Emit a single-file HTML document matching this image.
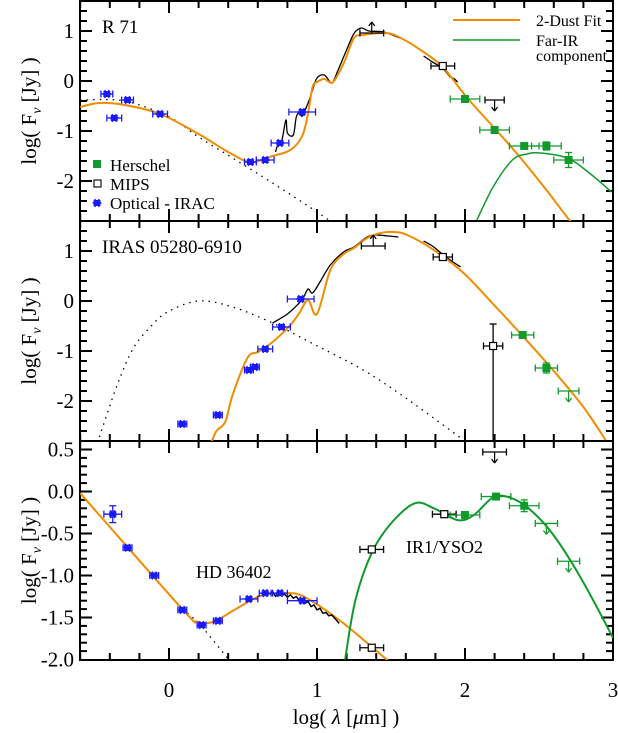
<!DOCTYPE html>
<html><head><meta charset="utf-8">
<style>
html,body{margin:0;padding:0;background:#fff;}
svg{display:block;}
svg text{font-family:"Liberation Serif",serif;}
</style></head>
<body>
<svg id="chart" width="618" height="733" viewBox="0 0 618 733" xmlns="http://www.w3.org/2000/svg">
<defs>
<clipPath id="c1"><rect x="80" y="1" width="533" height="220"/></clipPath>
<clipPath id="c2"><rect x="80" y="221" width="533" height="220"/></clipPath>
<clipPath id="c3"><rect x="80" y="441" width="533" height="219"/></clipPath>
</defs>
<g id="layer"></g>
<text x="346" y="724" font-size="21" text-anchor="middle">log( <tspan font-style="italic">λ</tspan> [<tspan font-style="italic">μ</tspan>m] )</text>
</svg>
<script>
// ---------- data: R 71 (top panel) ----------
const r71OptX=[-0.42,-0.37,-0.28,-0.06,0.55,0.65,0.75,0.90];
const r71OptY=[-0.26,-0.74,-0.38,-0.66,-1.62,-1.58,-1.24,-0.62];
const r71OptXe=[0.04,0.05,0.04,0.05,0.04,0.06,0.06,0.09];
const r71MipsX=[1.85];
const r71MipsY=[0.30];
const r71MipsLimX=[1.37];
const r71MipsLimY=[0.96];
const r71UpperX=[2.2];
const r71UpperY=[-0.38];
const r71HerX=[2.0,2.2,2.4,2.55,2.7];
const r71HerY=[-0.36,-0.98,-1.30,-1.30,-1.58];
const r71HerYe=[0,0,0,0.08,0.15];
const r71FitX=[-0.6,-0.47,-0.3,-0.06,0.2,0.4,0.55,0.7,0.82,0.9,0.94,0.97,1.0,1.05,1.10,1.14,1.19,1.25,1.31,1.45,1.54,1.70,1.85,2.01,2.21,2.37,2.55,2.70,2.8];
const r71FitY=[-0.52,-0.44,-0.48,-0.66,-1.06,-1.42,-1.62,-1.50,-1.38,-1.10,-0.64,-0.12,-0.02,0.04,-0.04,0.12,0.42,0.86,0.92,0.96,0.90,0.62,0.28,-0.32,-0.98,-1.52,-2.18,-2.76,-3.1];
const r71FarX=[2.08,2.19,2.32,2.42,2.51,2.69,2.84,2.99];
const r71FarY=[-2.78,-2.12,-1.58,-1.46,-1.44,-1.54,-1.84,-2.22];
const r71StarX=[-0.6,-0.3,0.0,0.2,0.43,0.7,0.95,1.1];
const r71StarY=[-0.38,-0.40,-0.72,-1.12,-1.54,-2.04,-2.52,-2.82];
const r71SpecX=[0.72,0.73,0.76,0.79,0.80,0.84,0.86,0.885,0.90,0.94,0.97,1.0,1.05,1.10,1.14,1.19,1.25,1.30,1.35,1.45,1.56];
const r71SpecY=[-1.42,-1.32,-1.22,-0.78,-1.04,-1.08,-0.72,-0.62,-0.70,-0.44,-0.18,0.06,0.12,-0.04,0.20,0.55,0.95,1.06,1.00,0.98,0.86];
const r71Spec2X=[1.72,1.78,1.85,1.90,1.93,1.95];
const r71Spec2Y=[0.50,0.38,0.26,0.08,0.04,-0.02];
// ---------- data: IRAS 05280-6910 (middle panel) ----------
const irOptX=[0.09,0.33,0.54,0.58,0.65,0.76,0.89];
const irOptY=[-2.46,-2.28,-1.38,-1.32,-0.96,-0.52,0.04];
const irOptXe=[0.03,0.03,0.03,0.03,0.05,0.06,0.09];
const irMipsX=[1.85,2.19];
const irMipsY=[0.88,-0.90];
const irMipsYeUp=[0,0.44];
const irMipsLimX=[1.38];
const irMipsLimY=[1.10];
const irHerX=[2.39,2.55];
const irHerY=[-0.68,-1.34];
const irHerYe=[0,0.1];
const irUpperX=[2.70];
const irUpperY=[-1.80];
const irFitX=[0.28,0.32,0.38,0.43,0.53,0.60,0.70,0.82,0.885,0.94,1.0,1.09,1.18,1.25,1.34,1.43,1.52,1.61,1.79,1.99,2.19,2.39,2.60,2.80,2.95];
const irFitY=[-2.88,-2.60,-2.42,-1.88,-1.14,-1.02,-0.82,-0.48,-0.22,0.02,-0.26,0.62,0.94,1.06,1.26,1.36,1.38,1.32,1.02,0.56,-0.06,-0.70,-1.40,-2.12,-2.78];
const irStarX=[-0.47,-0.35,-0.24,-0.12,-0.01,0.2,0.43,0.7,0.95,1.3,1.6,1.99];
const irStarY=[-2.72,-1.68,-0.94,-0.50,-0.22,0.0,-0.12,-0.44,-0.82,-1.36,-1.94,-2.78];
const irSpecX=[0.70,0.80,0.88,0.91,0.94,0.97,1.02,1.09,1.18,1.25,1.34,1.40,1.48,1.55];
const irSpecY=[-0.44,-0.26,-0.04,0.08,0.24,0.16,0.38,0.72,0.98,1.08,1.28,1.32,1.30,1.28];
const irSpec2X=[1.72,1.78,1.83,1.90,1.97];
const irSpec2Y=[1.20,1.10,0.98,0.82,0.68];
// ---------- data: HD 36402 / IR1-YSO2 (bottom panel) ----------
const hdOptX=[-0.38,-0.28,-0.10,0.09,0.22,0.33,0.54,0.65,0.75,0.90];
const hdOptY=[-0.27,-0.67,-1.00,-1.41,-1.59,-1.54,-1.28,-1.21,-1.21,-1.30];
const hdOptXe=[0.06,0.03,0.03,0.03,0.03,0.03,0.06,0.04,0.05,0.1];
const hdOptYe=[0.1,0.03,0,0,0,0,0,0,0,0];
const hdMipsX=[1.37,1.37,1.86];
const hdMipsY=[-0.69,-1.86,-0.27];
const hdHerX=[2.0,2.21,2.40];
const hdHerY=[-0.28,-0.06,-0.17];
const hdHerYe=[0,0,0.07];
const hdUpperX=[2.2];
const hdUpperY=[0.47];
const hdHerLimX=[2.55,2.70];
const hdHerLimY=[-0.38,-0.83];
const hdFitX=[-0.6,0.09,0.19,0.30,0.46,0.62,0.78,0.91,1.15,1.37,1.47,1.55];
const hdFitY=[-0.02,-1.40,-1.55,-1.55,-1.39,-1.24,-1.21,-1.25,-1.53,-1.85,-2.0,-2.12];
const hdStarX=[0.09,0.2,0.39,0.45];
const hdStarY=[-1.40,-1.56,-1.97,-2.1];
const hdSpecX=[0.68,0.70,0.72,0.74,0.76,0.78,0.80,0.82,0.84,0.86,0.88,0.90,0.92,0.94,0.96,0.98,1.00,1.02,1.04,1.06,1.08,1.10,1.12,1.14,1.15];
const hdSpecY=[-1.22,-1.19,-1.25,-1.20,-1.24,-1.22,-1.26,-1.23,-1.27,-1.25,-1.30,-1.28,-1.33,-1.31,-1.37,-1.35,-1.41,-1.39,-1.45,-1.44,-1.48,-1.47,-1.51,-1.55,-1.57];
const ysoX=[1.19,1.26,1.37,1.50,1.66,1.79,1.95,2.06,2.19,2.30,2.43,2.59,2.78,3.0];
const ysoY=[-2.0,-1.29,-0.73,-0.38,-0.14,-0.20,-0.34,-0.28,-0.07,-0.07,-0.20,-0.50,-1.02,-1.74];

const NS="http://www.w3.org/2000/svg";
const layer=document.getElementById('layer');
const ORANGE="#f08c00",GREEN="#119a2c",BLUE="#1a1aff";
const X0=169,XS=148;
function xs(v){return X0+XS*v;}
const panels=[
 {top:1,bot:221,y0:81,ys:50,fmin:-2.8,fmax:1.6,clip:'c1'},
 {top:221,bot:441,y0:301,ys:50,fmin:-2.8,fmax:1.6,clip:'c2'},
 {top:441,bot:660,y0:491.5,ys:84,fmin:-2.0,fmax:0.6,clip:'c3'}
];
function mk(tag,attrs,parent){const e=document.createElementNS(NS,tag);for(const k in attrs)e.setAttribute(k,attrs[k]);(parent||layer).appendChild(e);return e;}
function ln(g,x1,y1,x2,y2,c,w){return mk('line',{x1:x1,y1:y1,x2:x2,y2:y2,stroke:c,'stroke-width':w||1.2},g);}
function curve(g,p,X,Y,color,w,dash,name,smooth){
  const P=X.map((v,i)=>[xs(v),p.y0-p.ys*Y[i]]);
  let d='M'+P[0][0].toFixed(1)+','+P[0][1].toFixed(1);
  for(let i=1;i<P.length;i++){
    if(smooth){const a=P[i-2]||P[i-1],b=P[i-1],c=P[i],e=P[i+1]||P[i];
      const c1=[b[0]+(c[0]-a[0])/6,b[1]+(c[1]-a[1])/6],c2=[c[0]-(e[0]-b[0])/6,c[1]-(e[1]-b[1])/6];
      d+='C'+c1[0].toFixed(1)+','+c1[1].toFixed(1)+' '+c2[0].toFixed(1)+','+c2[1].toFixed(1)+' '+c[0].toFixed(1)+','+c[1].toFixed(1);}
    else d+='L'+P[i][0].toFixed(1)+','+P[i][1].toFixed(1);}
  const e=mk('path',{d:d,fill:'none',stroke:color,'stroke-width':w,'stroke-linejoin':'round'},g);
  if(dash)e.setAttribute('stroke-dasharray',dash);
  
  
}
function xerr(g,p,v,f,e,c){const y=p.y0-p.ys*f;ln(g,xs(v-e),y,xs(v+e),y,c,1.3);ln(g,xs(v-e),y-3.5,xs(v-e),y+3.5,c,1.3);ln(g,xs(v+e),y-3.5,xs(v+e),y+3.5,c,1.3);}
function yerr(g,p,v,f1,f2,c){const x=xs(v);ln(g,x,p.y0-p.ys*f1,x,p.y0-p.ys*f2,c,1.3);ln(g,x-3.5,p.y0-p.ys*f1,x+3.5,p.y0-p.ys*f1,c,1.3);ln(g,x-3.5,p.y0-p.ys*f2,x+3.5,p.y0-p.ys*f2,c,1.3);}
function star(g,x,y,c){const s=mk('g',{},g);
  mk('rect',{x:x-3.5,y:y-3,width:7,height:6,fill:c},s);
  for(const a of [0,60,120]){const r=a*Math.PI/180;ln(s,x-4.5*Math.cos(r),y-4.5*Math.sin(r),x+4.5*Math.cos(r),y+4.5*Math.sin(r),c,1.5);}}
function opt(g,p,X,Y,XE,YE){X.forEach((v,i)=>{xerr(g,p,v,Y[i],XE[i],BLUE);if(YE&&YE[i])yerr(g,p,v,Y[i]-YE[i],Y[i]+YE[i],BLUE);star(g,xs(v),p.y0-p.ys*Y[i],BLUE);});}
function her(g,p,X,Y,YE,xe){X.forEach((v,i)=>{xerr(g,p,v,Y[i],xe,GREEN);if(YE&&YE[i])yerr(g,p,v,Y[i]-YE[i],Y[i]+YE[i],GREEN);
  const r=mk('rect',{x:xs(v)-4,y:p.y0-p.ys*Y[i]-4,width:8,height:8,fill:GREEN},g);});}
function mips(g,p,X,Y,xe,sz){X.forEach((v,i)=>{xerr(g,p,v,Y[i],xe,'#000');
  const s=sz||7;const r=mk('rect',{x:xs(v)-s/2,y:p.y0-p.ys*Y[i]-s/2,width:s,height:s,fill:'#fff',stroke:'#000','stroke-width':1.2},g);});}
function upper(g,p,X,Y,xe,c,dir){X.forEach((v,i)=>{xerr(g,p,v,Y[i],xe,c);const x=xs(v),y=p.y0-p.ys*Y[i];const L=dir*11;
  ln(g,x,y,x,y+L,c,1.2);ln(g,x-3,y+L-dir*4,x,y+L,c,1.2);ln(g,x+3,y+L-dir*4,x,y+L,c,1.2);});}

// ---------- axes ----------
panels.forEach((p,pi)=>{
  const ax=mk('g',{});
  
  
  mk('rect',{x:80,y:p.top,width:533,height:p.bot-p.top,fill:'none',stroke:'#000','stroke-width':2},ax);
  for(let k=-3;k<=15;k++){const v=k*0.2;const x=xs(v);const maj=(k%5===0);const L=maj?12:7;
    ln(ax,x,p.bot,x,p.bot-L,'#000',2);ln(ax,x,p.top,x,p.top+L,'#000',2);}
  const per=pi==2?10:5;   // minor ticks per unit
  const kmin=Math.round(p.fmin*per)-1,kmax=Math.round(p.fmax*per)+1;
  for(let k=kmin;k<=kmax;k++){const f=k/per;const y=p.y0-p.ys*f;if(y<p.top+1||y>p.bot+0.6)continue;
    const fm=pi==2?(k%5===0):(k%5===0);const L=fm?12:7;
    if(y<p.bot-1){ln(ax,80,y,80+L,y,'#000',2);ln(ax,613,y,613-L,y,'#000',2);}
    if(fm){const t=mk('text',{x:74,y:y+7,'font-size':21,'text-anchor':'end'},ax);
      t.textContent=pi==2?(k<0?'-':'')+Math.abs(f).toFixed(1):(k<0?'-':'')+Math.abs(Math.round(f));
      }}
  const yt=mk('text',{x:0,y:0,'font-size':21,'text-anchor':'middle',transform:'translate(36,'+((p.top+p.bot)/2)+') rotate(-90)'},ax);
  yt.innerHTML='log( F<tspan font-size="14" dy="5" font-style="italic">ν</tspan><tspan dy="-5"> [Jy] )</tspan>';
  
});
[0,1,2,3].forEach(v=>{const t=mk('text',{x:xs(v),y:697,'font-size':21,'text-anchor':'middle'});t.textContent=String(v);
  });

// ---------- panel 1 ----------
let p=panels[0];let g=mk('g',{'clip-path':'url(#c1)'});

curve(g,p,r71StarX,r71StarY,'#000',1.3,'1.5,5','stellar-component',true);
curve(g,p,r71SpecX,r71SpecY,'#000',1.3,null,'spitzer-spectrum',true);
curve(g,p,r71Spec2X,r71Spec2Y,'#000',1.3,null,'mips-sed-spectrum',false);
curve(g,p,r71FitX,r71FitY,ORANGE,2,null,'two-dust-fit',true);
curve(g,p,r71FarX,r71FarY,GREEN,1.5,null,'far-ir-component',true);
opt(g,p,r71OptX,r71OptY,r71OptXe);
mips(g,p,r71MipsX,r71MipsY,0.08);
upper(g,p,r71MipsLimX,r71MipsLimY,0.08,'#000',-1);
upper(g,p,r71UpperX,r71UpperY,0.065,'#000',1);
her(g,p,r71HerX,r71HerY,r71HerYe,0.1);
let t=mk('text',{x:102,y:33,'font-size':19});t.textContent='R 71';
const lg=mk('g',{});
mk('rect',{x:93,y:160,width:8,height:8,fill:GREEN},lg);
mk('rect',{x:94,y:180,width:7,height:7,fill:'#fff',stroke:'#000','stroke-width':1.1},lg);
star(lg,97,203,BLUE);
[['Herschel',171],['MIPS',190],['Optical - IRAC',209]].forEach(a=>{const e=mk('text',{x:110,y:a[1],'font-size':17},lg);e.textContent=a[0];});
const lg2=mk('g',{});
ln(lg2,453,20,520,20,ORANGE,2);ln(lg2,453,40,520,40,GREEN,1.5);
[['2-Dust Fit',26],['Far-IR',46],['component',61]].forEach(a=>{const e=mk('text',{x:536,y:a[1],'font-size':16},lg2);e.textContent=a[0];});

// ---------- panel 2 ----------
p=panels[1];g=mk('g',{'clip-path':'url(#c2)'});

curve(g,p,irStarX,irStarY,'#000',1.3,'1.5,5','stellar-component',true);
curve(g,p,irSpecX,irSpecY,'#000',1.3,null,'spitzer-spectrum',true);
curve(g,p,irSpec2X,irSpec2Y,'#000',1.3,null,'mips-sed-spectrum',true);
curve(g,p,irFitX,irFitY,ORANGE,2,null,'two-dust-fit',true);
opt(g,p,irOptX,irOptY,irOptXe);
irMipsX.forEach((v,i)=>{if(irMipsYeUp[i]){yerr(g,p,v,irMipsY[i]+irMipsYeUp[i],-3.2,'#000');}});
mips(g,p,irMipsX,irMipsY,0.065);
upper(g,p,irMipsLimX,irMipsLimY,0.08,'#000',-1);
her(g,p,irHerX,irHerY,irHerYe,0.075);
upper(g,p,irUpperX,irUpperY,0.07,GREEN,1);
t=mk('text',{x:102,y:253,'font-size':19});t.textContent='IRAS 05280-6910';

// ---------- panel 3 ----------
p=panels[2];g=mk('g',{'clip-path':'url(#c3)'});

curve(g,p,hdStarX,hdStarY,'#000',1.3,'1.5,5','stellar-component',false);
curve(g,p,hdFitX,hdFitY,ORANGE,2,null,'two-dust-fit',true);
curve(g,p,hdSpecX,hdSpecY,'#000',1.5,null,'spitzer-spectrum',false);
curve(g,p,ysoX,ysoY,GREEN,2,null,'yso-fit',true);
opt(g,p,hdOptX,hdOptY,hdOptXe,hdOptYe);
mips(g,p,hdMipsX,hdMipsY,0.08);
upper(g,p,hdUpperX,hdUpperY,0.08,'#000',1);
her(g,p,hdHerX,hdHerY,hdHerYe,0.1);
upper(g,p,hdHerLimX,hdHerLimY,0.075,GREEN,1);
t=mk('text',{x:196,y:578,'font-size':18});t.textContent='HD 36402';
t=mk('text',{x:406,y:553,'font-size':18});t.textContent='IR1/YSO2';
</script>
</body></html>
